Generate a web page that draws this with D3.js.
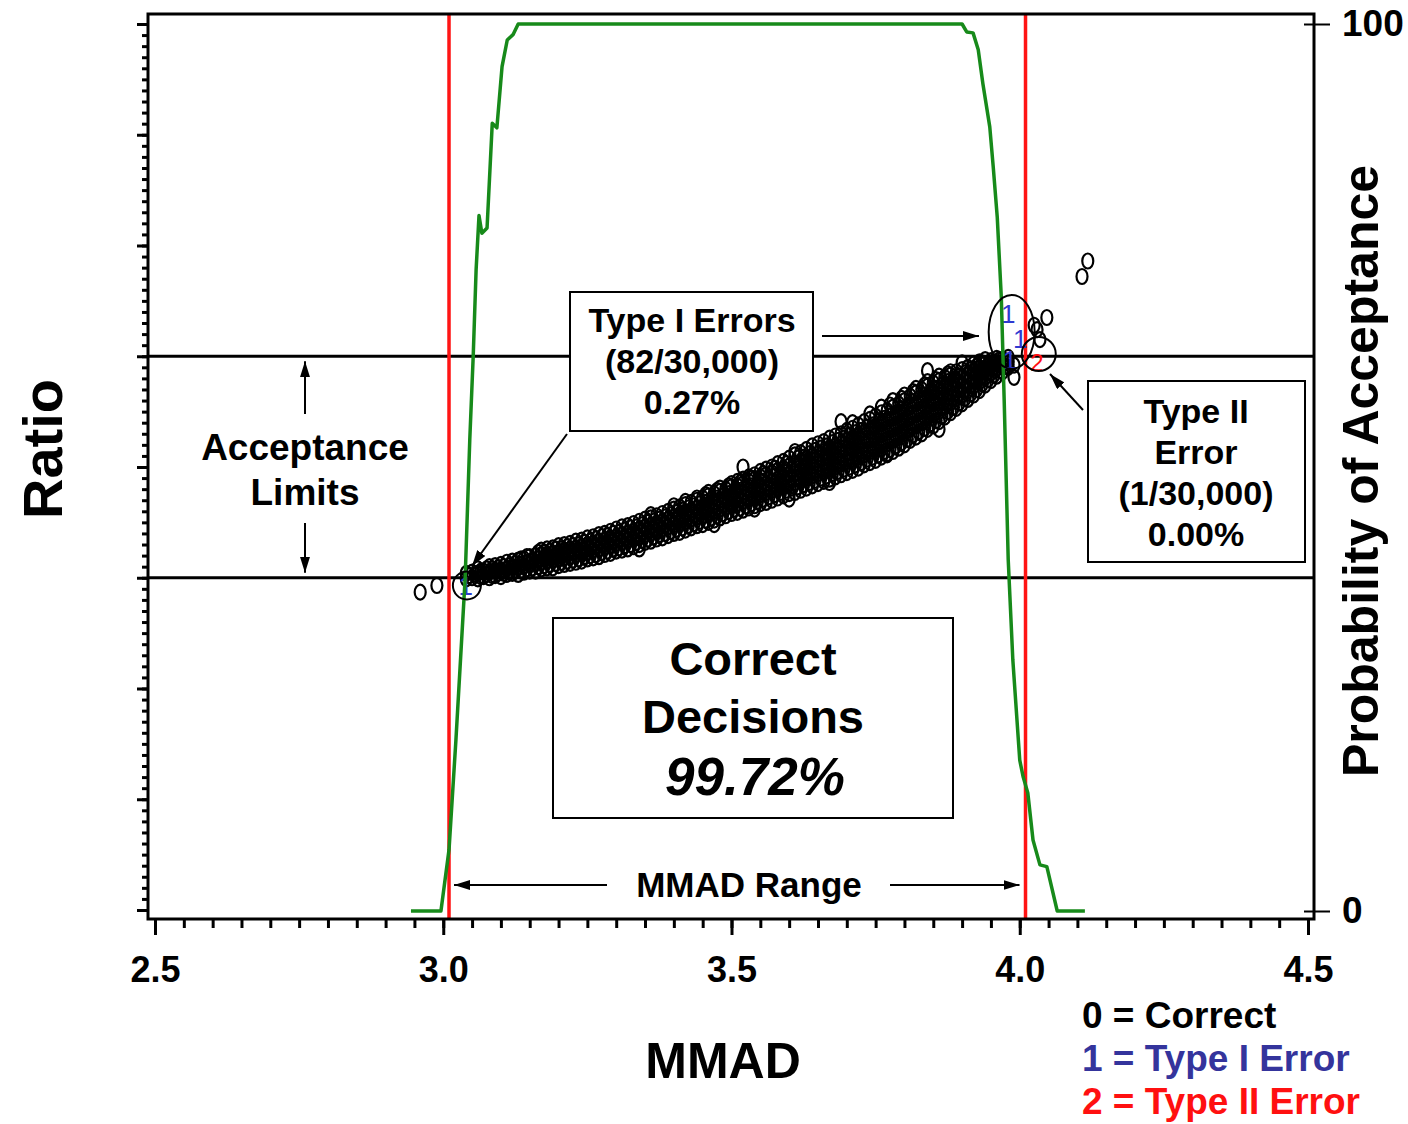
<!DOCTYPE html>
<html>
<head>
<meta charset="utf-8">
<script src="https://cdn.jsdelivr.net/npm/d3@7"></script>
<style>
  html, body { margin: 0; padding: 0; background: #fff; }
  svg { display: block; font-family: "Liberation Sans", Arial, Helvetica, sans-serif; }
</style>
</head>
<body>
<svg id="chart" width="1408" height="1124"></svg>
<script>
// ---- axis values ----
const mmadMajorTicks = [2.5, 3.0, 3.5, 4.0, 4.5];
const probTicks = [0, 100];
const acceptanceLimits = [0.9, 1.1];   // ratio acceptance limits
const mmadRange = [3.01, 4.01];        // MMAD range limits

// ---- probability of acceptance curve (MMAD, %) ----
const probMmad = [2.944, 2.996, 3.010, 3.022, 3.038, 3.046, 3.052, 3.057, 3.062, 3.067, 3.076,
  3.085, 3.093, 3.102, 3.111, 3.121, 3.130, 3.900, 3.908, 3.919, 3.928, 3.936, 3.948, 3.954,
  3.961, 3.968, 3.973, 3.980, 3.988, 4.000, 4.006, 4.014, 4.023, 4.035, 4.047, 4.065, 4.113];
const probAccept = [0, 0, 6.9, 19.3, 37.5, 53.1, 62.6, 72.3, 78.4, 76.4, 77.0,
  88.8, 88.3, 95.2, 98.2, 98.8, 100, 100, 99.1, 99.0, 97.1, 93.3, 88.4, 83.9,
  78.2, 69.2, 57.6, 39.6, 28.3, 17.0, 15.1, 13.3, 8.0, 5.2, 5.0, 0, 0];

// ---- simulated batches with correct decisions: MMAD value and its observed ratios ----
const correctBand = [
  [3.04, [0.899, 0.904]],
  [3.05, [0.900, 0.905]],
  [3.06, [0.899, 0.904, 0.908]],
  [3.07, [0.901, 0.906]],
  [3.08, [0.900, 0.905, 0.910]],
  [3.09, [0.902, 0.907, 0.911]],
  [3.10, [0.901, 0.907, 0.912]],
  [3.11, [0.903, 0.908, 0.914]],
  [3.12, [0.904, 0.910, 0.915]],
  [3.13, [0.903, 0.909, 0.916]],
  [3.14, [0.905, 0.911, 0.917]],
  [3.15, [0.906, 0.912, 0.919]],
  [3.16, [0.906, 0.913, 0.920]],
  [3.17, [0.908, 0.914, 0.921, 0.925]],
  [3.18, [0.909, 0.915, 0.921, 0.926]],
  [3.19, [0.909, 0.916, 0.922, 0.927]],
  [3.20, [0.911, 0.917, 0.923, 0.929]],
  [3.21, [0.912, 0.918, 0.925, 0.930]],
  [3.22, [0.913, 0.919, 0.926, 0.931]],
  [3.23, [0.914, 0.921, 0.927, 0.933]],
  [3.24, [0.915, 0.922, 0.928, 0.934]],
  [3.25, [0.917, 0.923, 0.930, 0.936]],
  [3.26, [0.918, 0.925, 0.931, 0.937]],
  [3.27, [0.919, 0.926, 0.933, 0.939]],
  [3.28, [0.921, 0.928, 0.934, 0.940]],
  [3.29, [0.922, 0.929, 0.936, 0.942]],
  [3.30, [0.924, 0.931, 0.937, 0.944]],
  [3.31, [0.925, 0.932, 0.939, 0.946]],
  [3.32, [0.926, 0.934, 0.940, 0.947]],
  [3.33, [0.928, 0.935, 0.942, 0.949]],
  [3.34, [0.930, 0.937, 0.944, 0.951]],
  [3.35, [0.932, 0.939, 0.946, 0.953]],
  [3.36, [0.933, 0.940, 0.947, 0.954, 0.957]],
  [3.37, [0.935, 0.942, 0.949, 0.956]],
  [3.38, [0.936, 0.944, 0.951, 0.958]],
  [3.39, [0.938, 0.946, 0.953, 0.960]],
  [3.40, [0.940, 0.948, 0.955, 0.962, 0.965]],
  [3.41, [0.941, 0.949, 0.957, 0.964]],
  [3.42, [0.943, 0.951, 0.959, 0.966, 0.969]],
  [3.43, [0.945, 0.953, 0.961, 0.968]],
  [3.44, [0.947, 0.955, 0.963, 0.970, 0.972]],
  [3.45, [0.948, 0.956, 0.964, 0.972]],
  [3.46, [0.950, 0.958, 0.966, 0.974, 0.977]],
  [3.47, [0.952, 0.960, 0.968, 0.976]],
  [3.48, [0.954, 0.962, 0.970, 0.978, 0.981]],
  [3.49, [0.956, 0.964, 0.972, 0.980]],
  [3.50, [0.958, 0.966, 0.974, 0.982, 0.985]],
  [3.51, [0.959, 0.967, 0.975, 0.983, 0.987]],
  [3.52, [0.961, 0.969, 0.977, 0.985, 0.989]],
  [3.53, [0.963, 0.971, 0.979, 0.987, 0.991]],
  [3.54, [0.965, 0.973, 0.981, 0.989, 0.993]],
  [3.55, [0.967, 0.975, 0.983, 0.991, 0.996]],
  [3.56, [0.968, 0.977, 0.985, 0.993, 0.998]],
  [3.57, [0.970, 0.979, 0.987, 0.995, 1.000]],
  [3.58, [0.972, 0.981, 0.989, 0.997, 1.003]],
  [3.59, [0.974, 0.983, 0.991, 0.999, 1.005]],
  [3.60, [0.976, 0.985, 0.993, 1.001, 1.008]],
  [3.61, [0.977, 0.986, 0.994, 1.003, 1.011, 1.014]],
  [3.62, [0.979, 0.988, 0.997, 1.005, 1.013]],
  [3.63, [0.981, 0.990, 0.999, 1.008, 1.016]],
  [3.64, [0.983, 0.992, 1.001, 1.010, 1.019]],
  [3.65, [0.985, 0.994, 1.003, 1.012, 1.021]],
  [3.66, [0.987, 0.996, 1.005, 1.014, 1.023]],
  [3.67, [0.989, 0.998, 1.008, 1.017, 1.026]],
  [3.68, [0.991, 1.000, 1.010, 1.019, 1.028]],
  [3.69, [0.993, 1.003, 1.012, 1.021, 1.030]],
  [3.70, [0.995, 1.005, 1.014, 1.024, 1.033]],
  [3.71, [0.997, 1.007, 1.016, 1.026, 1.035, 1.040]],
  [3.72, [0.999, 1.009, 1.019, 1.028, 1.038]],
  [3.73, [1.002, 1.011, 1.021, 1.031, 1.041]],
  [3.74, [1.004, 1.014, 1.024, 1.033, 1.043, 1.048]],
  [3.75, [1.006, 1.016, 1.026, 1.036, 1.046]],
  [3.76, [1.009, 1.019, 1.029, 1.039, 1.049, 1.054]],
  [3.77, [1.011, 1.021, 1.031, 1.041, 1.051]],
  [3.78, [1.014, 1.024, 1.034, 1.044, 1.054, 1.060]],
  [3.79, [1.017, 1.027, 1.037, 1.047, 1.057]],
  [3.80, [1.020, 1.030, 1.040, 1.050, 1.060, 1.065]],
  [3.81, [1.024, 1.034, 1.044, 1.054, 1.064]],
  [3.82, [1.027, 1.037, 1.047, 1.057, 1.067, 1.071]],
  [3.83, [1.030, 1.040, 1.050, 1.060, 1.070]],
  [3.84, [1.034, 1.044, 1.054, 1.064, 1.073, 1.077]],
  [3.85, [1.037, 1.047, 1.057, 1.067, 1.076]],
  [3.86, [1.041, 1.050, 1.060, 1.069, 1.078, 1.082]],
  [3.87, [1.045, 1.054, 1.063, 1.072, 1.081]],
  [3.88, [1.049, 1.058, 1.067, 1.075, 1.083, 1.086]],
  [3.89, [1.053, 1.062, 1.070, 1.078, 1.086]],
  [3.90, [1.057, 1.065, 1.073, 1.081, 1.088]],
  [3.91, [1.061, 1.069, 1.077, 1.084, 1.090]],
  [3.92, [1.065, 1.073, 1.080, 1.087, 1.093]],
  [3.93, [1.069, 1.077, 1.084, 1.090, 1.095]],
  [3.94, [1.074, 1.081, 1.087, 1.093, 1.097]],
  [3.95, [1.078, 1.085, 1.091, 1.096]],
  [3.96, [1.082, 1.089, 1.094, 1.098]],
  [3.97, [1.086, 1.092, 1.097]],
  [3.98, [1.090, 1.095, 1.099]]
];
// more batches at the in-between MMAD values
const correctBandHalf = [
  [3.045, [0.902]],
  [3.055, [0.903]],
  [3.065, [0.901, 0.906]],
  [3.075, [0.903, 0.908]],
  [3.085, [0.902, 0.908]],
  [3.095, [0.904, 0.909]],
  [3.105, [0.904, 0.910]],
  [3.115, [0.905, 0.911]],
  [3.125, [0.907, 0.913]],
  [3.135, [0.906, 0.912, 0.917]],
  [3.145, [0.908, 0.914, 0.919]],
  [3.155, [0.909, 0.916]],
  [3.165, [0.910, 0.917, 0.923]],
  [3.175, [0.911, 0.918, 0.923]],
  [3.185, [0.912, 0.918, 0.924]],
  [3.195, [0.913, 0.920, 0.926]],
  [3.205, [0.914, 0.920, 0.926]],
  [3.215, [0.915, 0.922, 0.928]],
  [3.225, [0.916, 0.923, 0.929]],
  [3.235, [0.917, 0.924, 0.930]],
  [3.245, [0.919, 0.925, 0.932]],
  [3.255, [0.920, 0.927, 0.933]],
  [3.265, [0.921, 0.928, 0.935]],
  [3.275, [0.923, 0.930, 0.937]],
  [3.285, [0.924, 0.931, 0.938]],
  [3.295, [0.926, 0.933, 0.940]],
  [3.305, [0.927, 0.934, 0.941]],
  [3.315, [0.929, 0.936, 0.943]],
  [3.325, [0.930, 0.938, 0.945]],
  [3.335, [0.932, 0.939, 0.946]],
  [3.345, [0.934, 0.941, 0.948]],
  [3.355, [0.935, 0.943, 0.950]],
  [3.365, [0.937, 0.944, 0.951]],
  [3.375, [0.939, 0.946, 0.953]],
  [3.385, [0.940, 0.948, 0.955]],
  [3.395, [0.942, 0.950, 0.957]],
  [3.405, [0.944, 0.952, 0.959]],
  [3.415, [0.945, 0.953, 0.961]],
  [3.425, [0.947, 0.955, 0.963]],
  [3.435, [0.949, 0.957, 0.965]],
  [3.445, [0.951, 0.959, 0.967]],
  [3.455, [0.952, 0.960, 0.968, 0.975]],
  [3.465, [0.954, 0.962, 0.970]],
  [3.475, [0.956, 0.964, 0.972, 0.979]],
  [3.485, [0.958, 0.966, 0.974]],
  [3.495, [0.960, 0.968, 0.976, 0.983]],
  [3.505, [0.962, 0.970, 0.978]],
  [3.515, [0.963, 0.971, 0.979, 0.986]],
  [3.525, [0.965, 0.973, 0.981]],
  [3.535, [0.967, 0.975, 0.983, 0.990]],
  [3.545, [0.969, 0.977, 0.985]],
  [3.555, [0.971, 0.979, 0.987, 0.994]],
  [3.565, [0.973, 0.981, 0.989]],
  [3.575, [0.975, 0.983, 0.992, 0.999]],
  [3.585, [0.977, 0.985, 0.993]],
  [3.595, [0.979, 0.987, 0.995, 1.003]],
  [3.605, [0.981, 0.990, 0.998]],
  [3.615, [0.982, 0.991, 1.000, 1.008]],
  [3.625, [0.984, 0.993, 1.001, 1.009]],
  [3.635, [0.986, 0.995, 1.004, 1.012]],
  [3.645, [0.988, 0.997, 1.006, 1.015]],
  [3.655, [0.990, 0.999, 1.008, 1.017]],
  [3.665, [0.992, 1.001, 1.010, 1.019]],
  [3.675, [0.994, 1.003, 1.012, 1.022]],
  [3.685, [0.996, 1.005, 1.015, 1.024]],
  [3.695, [0.998, 1.008, 1.017, 1.026]],
  [3.705, [1.000, 1.010, 1.019, 1.029]],
  [3.715, [1.002, 1.012, 1.021, 1.031]],
  [3.725, [1.004, 1.014, 1.024, 1.033]],
  [3.735, [1.007, 1.016, 1.026, 1.036]],
  [3.745, [1.009, 1.019, 1.029, 1.038]],
  [3.755, [1.011, 1.021, 1.031, 1.041]],
  [3.765, [1.014, 1.024, 1.034, 1.044]],
  [3.775, [1.016, 1.026, 1.036, 1.046, 1.056]],
  [3.785, [1.019, 1.029, 1.039, 1.049]],
  [3.795, [1.022, 1.032, 1.042, 1.052, 1.062]],
  [3.805, [1.025, 1.035, 1.045, 1.055]],
  [3.815, [1.029, 1.039, 1.049, 1.059, 1.068]],
  [3.825, [1.032, 1.042, 1.052, 1.062]],
  [3.835, [1.035, 1.045, 1.055, 1.065, 1.074]],
  [3.845, [1.039, 1.049, 1.059, 1.068]],
  [3.855, [1.042, 1.052, 1.062, 1.071, 1.079]],
  [3.865, [1.046, 1.055, 1.065, 1.074]],
  [3.875, [1.050, 1.059, 1.068, 1.077, 1.084]],
  [3.885, [1.054, 1.063, 1.071, 1.079]],
  [3.895, [1.058, 1.066, 1.074, 1.082]],
  [3.905, [1.062, 1.070, 1.078, 1.085]],
  [3.915, [1.066, 1.074, 1.081, 1.088]],
  [3.925, [1.070, 1.078, 1.085, 1.091]],
  [3.935, [1.075, 1.082, 1.088, 1.094]],
  [3.945, [1.079, 1.086, 1.092]],
  [3.955, [1.083, 1.090, 1.095]],
  [3.965, [1.087, 1.093, 1.097]],
  [3.975, [1.091, 1.096]]
];
// isolated correct decisions outside the main band (MMAD, ratio)
const correctStray = [
  [2.960, 0.887], [2.989, 0.893], [3.34, 0.926], [3.47, 0.948], [3.54, 0.962],
  [3.60, 0.971], [3.67, 0.986], [3.77, 1.012], [3.86, 1.034], [3.84, 1.087],
  [3.69, 1.041], [3.52, 1.000], [3.90, 1.094], [3.99, 1.081], [3.99, 1.092],
  [4.025, 1.128], [4.030, 1.124], [4.035, 1.115], [4.047, 1.135],
  [4.108, 1.172], [4.118, 1.186]
];
// Type I errors: MMAD inside the range but ratio outside the limits
const typeOnePts = [[3.039, 0.893], [3.980, 1.138], [4.001, 1.116], [3.983, 1.097]];
// Type II errors: MMAD outside the range but ratio inside the limits
const typeTwoPts = [[4.030, 1.094]];

// ---- legend entries ----
const legendItems = ["0 = Correct", "1 = Type I Error", "2 = Type II Error"];
const legendColors = ["#000000", "#34349c", "#ff1010"];

// ---- scales ----
const svg = d3.select("#chart");
const x = d3.scaleLinear().domain([2.5, 4.5]).range([155, 1308]);
const yRatio = d3.scaleLinear().domain([0.6, 1.4]).range([910, 24]);
const yProb = d3.scaleLinear().domain([0, 100]).range([911, 24]);

const frame = { left: 148, top: 14, right: 1314, bottom: 919 };

// arrowhead
const defs = svg.append("defs");
defs.append("marker")
  .attr("id", "arrow")
  .attr("viewBox", "0 0 16 10")
  .attr("refX", 16).attr("refY", 5)
  .attr("markerWidth", 16).attr("markerHeight", 10)
  .attr("markerUnits", "userSpaceOnUse")
  .attr("orient", "auto")
  .append("path").attr("d", "M0,0 L16,5 L0,10 Z").attr("fill", "#000");

// ---- acceptance limit lines ----
svg.append("g").selectAll("line").data(acceptanceLimits).join("line")
  .attr("x1", frame.left).attr("x2", frame.right)
  .attr("y1", d => yRatio(d)).attr("y2", d => yRatio(d))
  .attr("stroke", "#000").attr("stroke-width", 3);

// ---- MMAD range lines ----
svg.append("g").selectAll("line").data(mmadRange).join("line")
  .attr("x1", d => x(d)).attr("x2", d => x(d))
  .attr("y1", frame.top).attr("y2", frame.bottom)
  .attr("stroke", "#ff1414").attr("stroke-width", 3.5);

// ---- scatter of decisions ----
const toPairs = rows => rows.flatMap(([m, rs]) => rs.map(r => [m, r]));
const correctPts = toPairs(correctBand).concat(toPairs(correctBandHalf), correctStray);
svg.append("g").selectAll("ellipse").data(correctPts).join("ellipse")
  .attr("cx", d => x(d[0])).attr("cy", d => yRatio(d[1]))
  .attr("rx", 5.5).attr("ry", 7.5)
  .attr("fill", "none").attr("stroke", "#000").attr("stroke-width", 2.2);

svg.append("g").selectAll("text").data(typeOnePts).join("text")
  .attr("x", d => x(d[0])).attr("y", d => yRatio(d[1]))
  .attr("text-anchor", "middle").attr("dominant-baseline", "central")
  .attr("font-size", 26).attr("fill", "#2f3ad0")
  .text("1");

svg.append("g").selectAll("text").data(typeTwoPts).join("text")
  .attr("x", d => x(d[0])).attr("y", d => yRatio(d[1]))
  .attr("text-anchor", "middle").attr("dominant-baseline", "central")
  .attr("font-size", 24).attr("fill", "#ff1010")
  .text("2");

// ---- probability of acceptance curve ----
const probLine = d3.line().x(d => x(d[0])).y(d => yProb(d[1]));
svg.append("path")
  .datum(d3.zip(probMmad, probAccept))
  .attr("d", probLine)
  .attr("fill", "none").attr("stroke", "#178a1a").attr("stroke-width", 3.5)
  .attr("stroke-linejoin", "round");

// ---- circles highlighting the errors ----
const highlight = svg.append("g").attr("fill", "none").attr("stroke", "#000").attr("stroke-width", 2);
highlight.append("ellipse").attr("cx", x(3.986)).attr("cy", yRatio(1.122)).attr("rx", 23).attr("ry", 37);
highlight.append("circle").attr("cx", x(4.033)).attr("cy", yRatio(1.102)).attr("r", 17);
highlight.append("circle").attr("cx", x(3.041)).attr("cy", yRatio(0.893)).attr("r", 14);

// ---- frame and axes ----
svg.append("rect")
  .attr("x", frame.left).attr("y", frame.top)
  .attr("width", frame.right - frame.left).attr("height", frame.bottom - frame.top)
  .attr("fill", "none").attr("stroke", "#000").attr("stroke-width", 3);

const ratioMinor = d3.range(60, 141).map(v => v / 100);
const ratioMajor = d3.range(6, 15).map(v => v / 10);
const leftMinor = svg.append("g").attr("transform", `translate(${frame.left},0)`)
  .call(d3.axisLeft(yRatio).tickValues(ratioMinor).tickSize(6).tickFormat(""));
const leftMajor = svg.append("g").attr("transform", `translate(${frame.left},0)`)
  .call(d3.axisLeft(yRatio).tickValues(ratioMajor).tickSize(11).tickFormat(""));
[leftMinor, leftMajor].forEach(g => {
  g.select(".domain").remove();
  g.selectAll(".tick line").attr("stroke", "#000").attr("stroke-width", 3);
});

const mmadMinor = d3.range(50, 91).map(v => v / 20);
const bottomMinor = svg.append("g").attr("transform", `translate(0,${frame.bottom})`)
  .call(d3.axisBottom(x).tickValues(mmadMinor).tickSize(9).tickFormat(""));
const bottomMajor = svg.append("g").attr("transform", `translate(0,${frame.bottom})`)
  .call(d3.axisBottom(x).tickValues(mmadMajorTicks).tickSize(16).tickPadding(21).tickFormat(d3.format(".1f")));
[bottomMinor, bottomMajor].forEach(g => {
  g.select(".domain").remove();
  g.selectAll(".tick line").attr("stroke", "#000").attr("stroke-width", 3);
});
bottomMajor.selectAll(".tick text")
  .attr("font-family", "'Liberation Sans', Arial, sans-serif")
  .attr("font-size", 36).attr("font-weight", "bold").attr("fill", "#000");

const right = svg.append("g").attr("transform", `translate(${frame.right},0)`)
  .call(d3.axisRight(yProb).tickValues(probTicks).tickSize(16).tickPadding(12));
right.select(".domain").remove();
right.selectAll(".tick line").attr("x1", -10).attr("stroke", "#000").attr("stroke-width", 2);
right.selectAll(".tick text")
  .attr("font-family", "'Liberation Sans', Arial, sans-serif")
  .attr("font-size", 37).attr("font-weight", "bold").attr("fill", "#000");

// ---- axis titles ----
svg.append("text")
  .attr("transform", "translate(62,449) rotate(-90)")
  .attr("text-anchor", "middle").attr("font-size", 56).attr("font-weight", "bold")
  .text("Ratio");
svg.append("text")
  .attr("transform", "translate(1378,471) rotate(-90)")
  .attr("text-anchor", "middle").attr("font-size", 50).attr("font-weight", "bold")
  .text("Probability of Acceptance");
svg.append("text")
  .attr("x", 723).attr("y", 1078)
  .attr("text-anchor", "middle").attr("font-size", 50).attr("font-weight", "bold")
  .text("MMAD");

// ---- annotation boxes ----
function textBox(box, lines, size, lineGap, firstBaseline, centerX) {
  svg.append("rect")
    .attr("x", box[0]).attr("y", box[1]).attr("width", box[2]).attr("height", box[3])
    .attr("fill", "#fff").attr("stroke", "#000").attr("stroke-width", 2);
  lines.forEach((t, i) => {
    svg.append("text")
      .attr("x", centerX).attr("y", firstBaseline + i * lineGap)
      .attr("text-anchor", "middle").attr("font-size", size).attr("font-weight", "bold")
      .text(t);
  });
}

function arrow(x1, y1, x2, y2) {
  svg.append("line")
    .attr("x1", x1).attr("y1", y1).attr("x2", x2).attr("y2", y2)
    .attr("stroke", "#000").attr("stroke-width", 2)
    .attr("marker-end", "url(#arrow)");
}

textBox([570, 292, 243, 139], ["Type I Errors", "(82/30,000)", "0.27%"], 34, 41, 332, 692);
arrow(822, 336, 979, 336);
arrow(567, 434, 472, 566);

textBox([1088, 381, 217, 181], ["Type II", "Error", "(1/30,000)", "0.00%"], 34, 41, 423, 1196);
arrow(1083, 410, 1050, 374);

// correct decisions box
svg.append("rect")
  .attr("x", 553).attr("y", 618).attr("width", 400).attr("height", 200)
  .attr("fill", "#fff").attr("stroke", "#000").attr("stroke-width", 2);
svg.append("text").attr("x", 753).attr("y", 675)
  .attr("text-anchor", "middle").attr("font-size", 47).attr("font-weight", "bold")
  .text("Correct");
svg.append("text").attr("x", 753).attr("y", 733)
  .attr("text-anchor", "middle").attr("font-size", 47).attr("font-weight", "bold")
  .text("Decisions");
svg.append("text").attr("x", 755).attr("y", 795)
  .attr("text-anchor", "middle").attr("font-size", 53).attr("font-weight", "bold")
  .attr("font-style", "italic")
  .text("99.72%");

// acceptance limits label
svg.append("text").attr("x", 305).attr("y", 460)
  .attr("text-anchor", "middle").attr("font-size", 37).attr("font-weight", "bold")
  .text("Acceptance");
svg.append("text").attr("x", 305).attr("y", 505)
  .attr("text-anchor", "middle").attr("font-size", 37).attr("font-weight", "bold")
  .text("Limits");
arrow(305, 414, 305, yRatio(acceptanceLimits[1]) + 5);
arrow(305, 523, 305, yRatio(acceptanceLimits[0]) - 5);

// MMAD range label
svg.append("text").attr("x", 749).attr("y", 897)
  .attr("text-anchor", "middle").attr("font-size", 35).attr("font-weight", "bold")
  .text("MMAD Range");
arrow(607, 885, x(mmadRange[0]) + 5, 885);
arrow(890, 885, x(mmadRange[1]) - 6, 885);

// ---- legend ----
svg.append("g").selectAll("text").data(legendItems).join("text")
  .attr("x", 1082).attr("y", (d, i) => 1028 + i * 43)
  .attr("font-size", 37).attr("font-weight", "bold")
  .attr("fill", (d, i) => legendColors[i])
  .text(d => d);
</script>
</body>
</html>
